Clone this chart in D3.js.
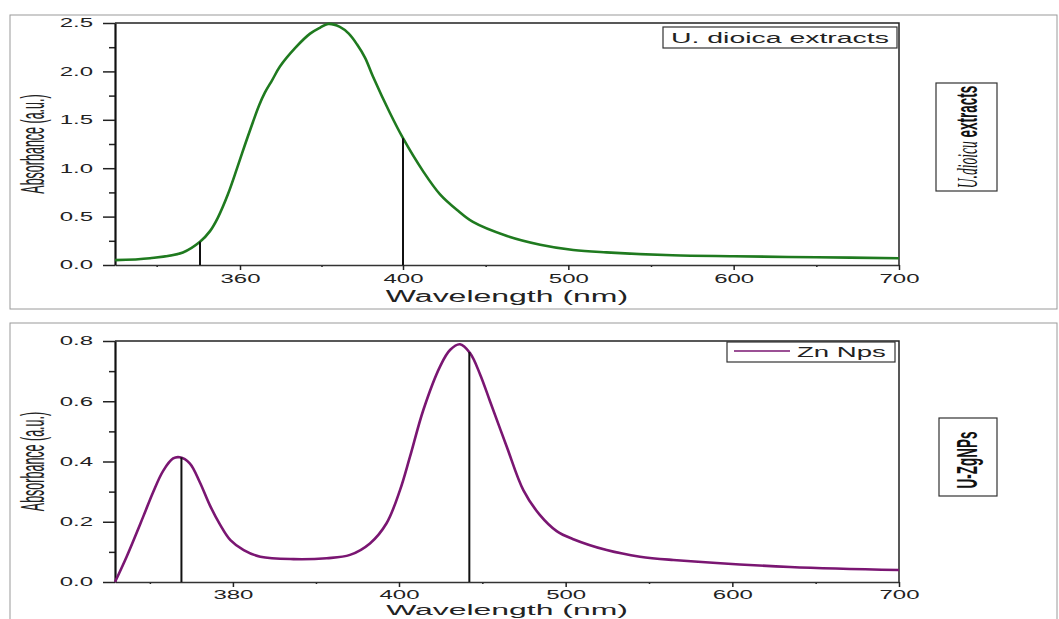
<!DOCTYPE html>
<html>
<head>
<meta charset="utf-8">
<script src="https://cdn.jsdelivr.net/npm/d3@7"></script>
<style>
  body { margin: 0; background: #fff; }
  text { font-family: "Liberation Sans", Arial, sans-serif; }
</style>
</head>
<body>
<div id="chart"></div>
<script>
// U. dioica extract spectrum
const extractNm  = [330, 338.4, 346.3, 350.4, 352.8, 354.7, 357.1, 359.3, 361.2, 363.2, 364.7, 366.1, 367.9, 369.8, 373.5, 377.2, 379.6, 381.6, 384.5, 386.7, 388.7, 390.7, 392.6, 396.8, 400, 412.1, 422.4, 433.3, 442.3, 462.9, 483, 503, 523, 563, 600, 650, 700];
const extractAbs = [0.05, 0.07, 0.13, 0.24, 0.35, 0.49, 0.73, 1.00, 1.24, 1.48, 1.65, 1.78, 1.91, 2.05, 2.24, 2.39, 2.45, 2.49, 2.46, 2.39, 2.28, 2.14, 1.95, 1.57, 1.31, 0.97, 0.73, 0.56, 0.445, 0.30, 0.21, 0.155, 0.13, 0.10, 0.09, 0.08, 0.07];

// Zn nanoparticle spectrum
const npsNm  = [365.8, 367.2, 369.2, 370.4, 371.6, 372.8, 373.6, 374.8, 376.0, 377.2, 378.4, 379.7, 381.3, 383.3, 387.3, 391.3, 394.1, 396.5, 398.5, 400.6, 406.6, 414.6, 424.6, 430.6, 436.6, 442.6, 448.6, 454.6, 464.6, 474.6, 484.6, 494.6, 504.6, 524.6, 544.6, 564.6, 634.6, 700];
const npsAbs = [0.0, 0.084, 0.217, 0.299, 0.369, 0.41, 0.414, 0.394, 0.332, 0.256, 0.193, 0.139, 0.106, 0.084, 0.076, 0.079, 0.09, 0.128, 0.195, 0.305, 0.416, 0.571, 0.715, 0.77, 0.789, 0.76, 0.69, 0.60, 0.45, 0.305, 0.222, 0.169, 0.142, 0.106, 0.084, 0.073, 0.05, 0.04];

// vertical marker lines
const extractMarkNm  = [350.4, 400];
const extractMarkAbs = [0.24, 1.31];
const npsMarkNm  = [373.8, 442.2];
const npsMarkAbs = [0.414, 0.763];

// axes
const extractXTicks = [360, 400, 500, 600, 700];
const extractXMinor = [340, 380, 450, 550, 650];
const extractYTicks = [0, 0.5, 1.0, 1.5, 2.0, 2.5];
const extractYMinor = [0.25, 0.75, 1.25, 1.75, 2.25];
const npsXTicks = [380, 400, 500, 600, 700];
const npsXMinor = [370, 390, 450, 550, 650];
const npsYTicks = [0, 0.2, 0.4, 0.6, 0.8];
const npsYMinor = [0.1, 0.3, 0.5, 0.7];

const SX = 2; // the picture is stretched horizontally

const svg = d3.select("#chart").append("svg")
    .attr("width", 1059)
    .attr("height", 619);

svg.append("rect").attr("width", 1059).attr("height", 619).attr("fill", "#fff");

function drawPanel(p) {
    // outer frame
    svg.append("rect")
        .attr("x", 10).attr("y", p.frameY)
        .attr("width", 1047).attr("height", p.frameH)
        .attr("fill", "none").attr("stroke", "#9a9a9a").attr("stroke-width", 1);

    const x = d3.scaleLinear().domain(p.xDomain).range(p.xRange);
    const y = d3.scaleLinear().domain(p.yDomain).range([p.bottom, p.top]);
    const g = svg.append("g");
    const x0 = p.xRange[0], x1 = p.xRange[p.xRange.length - 1];

    // top and right border
    g.append("path")
        .attr("d", `M${x0},${p.top}H${x1}V${p.bottom}`)
        .attr("fill", "none").attr("stroke", "#222").attr("stroke-width", 1.5);

    // minor ticks
    g.append("g").attr("transform", `translate(0,${p.bottom})`)
        .call(d3.axisBottom(x).tickValues(p.xMinor).tickSize(2).tickFormat(""))
        .call(a => a.select(".domain").remove())
        .selectAll("line").attr("stroke", "#222").attr("stroke-width", 1.5);
    g.append("g").attr("transform", `translate(${x0},0)`)
        .call(d3.axisLeft(y).tickValues(p.yMinor).tickSize(6).tickFormat(""))
        .call(a => a.select(".domain").remove())
        .selectAll("line").attr("stroke", "#222").attr("stroke-width", 1.5);

    // x axis
    const xa = g.append("g").attr("transform", `translate(0,${p.bottom})`)
        .call(d3.axisBottom(x).tickValues(p.xTicks).tickSize(5).tickPadding(p.tickPad).tickSizeOuter(0).tickFormat(d3.format("d")));
    xa.select(".domain").attr("stroke", "#333").attr("stroke-width", 1.5);
    xa.selectAll("line").attr("stroke", "#222").attr("stroke-width", 1.5);
    xa.selectAll("text").attr("font-size", 12).attr("fill", "#222")
        .attr("transform", `scale(${SX},1)`);

    // y axis
    const ya = g.append("g").attr("transform", `translate(${x0},0)`)
        .call(d3.axisLeft(y).tickValues(p.yTicks).tickSize(12).tickSizeOuter(0).tickFormat(d3.format(".1f")));
    ya.select(".domain").attr("stroke", "#111").attr("stroke-width", 2.2);
    ya.selectAll("line").attr("stroke", "#222").attr("stroke-width", 1.5);
    ya.selectAll("text").attr("font-size", 12).attr("fill", "#222")
        .attr("x", -11).attr("transform", `scale(${SX},1)`);

    // spectrum
    const pts = p.nm.map((d, i) => [d, p.abs[i]]);
    g.append("path")
        .datum(pts)
        .attr("fill", "none")
        .attr("stroke", p.color)
        .attr("stroke-width", 2.6)
        .attr("stroke-linejoin", "round")
        .attr("d", d3.line().x(d => x(d[0])).y(d => y(d[1])).curve(d3.curveCatmullRom.alpha(0.5)));

    // marker lines
    g.selectAll(".mark")
        .data(p.markNm.map((d, i) => [d, p.markAbs[i]]))
        .enter().append("line")
        .attr("x1", d => x(d[0])).attr("x2", d => x(d[0]))
        .attr("y1", y(0)).attr("y2", d => y(d[1]))
        .attr("stroke", "#111").attr("stroke-width", 2);

    // axis titles
    svg.append("text")
        .attr("transform", `translate(44,${(p.top + p.bottom) / 2}) scale(2.6,1) rotate(-90)`)
        .attr("text-anchor", "middle").attr("font-size", 12.5).attr("fill", "#222")
        .text("Absorbance (a.u.)");
    svg.append("text")
        .attr("transform", `translate(${(x0 + x1) / 2},${p.bottom + p.titleGap}) scale(${p.titleSX},1)`)
        .attr("text-anchor", "middle").attr("font-size", p.titleSize).attr("fill", "#222")
        .text("Wavelength (nm)");
}

drawPanel({
    frameY: 15, frameH: 294,
    top: 23, bottom: 265, titleGap: 37, titleSize: 16, titleSX: 2, tickPad: 4,
    xDomain: [330, 360, 400, 700], xRange: [115, 240, 403, 899],
    yDomain: [0, 2.5],
    xTicks: extractXTicks, xMinor: extractXMinor,
    yTicks: extractYTicks, yMinor: extractYMinor,
    nm: extractNm, abs: extractAbs, color: "#1f7a1f",
    markNm: extractMarkNm, markAbs: extractMarkAbs
});

drawPanel({
    frameY: 323, frameH: 310,
    top: 341, bottom: 582, titleGap: 33, titleSize: 15.5, titleSX: 2.06, tickPad: 3,
    xDomain: [365.8, 400, 700], xRange: [115, 399, 899],
    yDomain: [0, 0.8],
    xTicks: npsXTicks, xMinor: npsXMinor,
    yTicks: npsYTicks, yMinor: npsYMinor,
    nm: npsNm, abs: npsAbs, color: "#7a1672",
    markNm: npsMarkNm, markAbs: npsMarkAbs
});

// legends
svg.append("rect").attr("x", 663).attr("y", 27).attr("width", 234).attr("height", 21)
    .attr("fill", "#fff").attr("stroke", "#333").attr("stroke-width", 1.2);
svg.append("text")
    .attr("transform", "translate(671,43) scale(2.03,1)")
    .attr("font-size", 14).attr("fill", "#222")
    .text("U. dioica extracts");

svg.append("rect").attr("x", 727).attr("y", 342).attr("width", 168).attr("height", 20)
    .attr("fill", "#fff").attr("stroke", "#333").attr("stroke-width", 1.2);
svg.append("line").attr("x1", 734).attr("x2", 790).attr("y1", 351).attr("y2", 351)
    .attr("stroke", "#7a1672").attr("stroke-width", 1.6);
svg.append("text")
    .attr("transform", "translate(797,357) scale(2,1)")
    .attr("font-size", 13.8).attr("fill", "#222")
    .text("Zn Nps");

// side labels
svg.append("rect").attr("x", 936).attr("y", 83).attr("width", 61).attr("height", 108)
    .attr("fill", "#fff").attr("stroke", "#333").attr("stroke-width", 1.2);
const side1 = svg.append("text")
    .attr("transform", "translate(977,137) scale(2.2,1) rotate(-90)")
    .attr("text-anchor", "middle").attr("font-size", 13.5).attr("fill", "#111");
side1.append("tspan").attr("font-family", "Liberation Serif, Times New Roman, serif")
    .attr("font-style", "italic").text("U.dioicu");
side1.append("tspan").attr("font-weight", "bold").text(" extracts");

svg.append("rect").attr("x", 939).attr("y", 418).attr("width", 58).attr("height", 78)
    .attr("fill", "#fff").attr("stroke", "#333").attr("stroke-width", 1.2);
svg.append("text")
    .attr("transform", "translate(977,460) scale(2.2,1) rotate(-90)")
    .attr("text-anchor", "middle").attr("font-size", 13.5).attr("font-weight", "bold").attr("fill", "#111")
    .text("U-ZgNPs");
</script>
</body>
</html>
